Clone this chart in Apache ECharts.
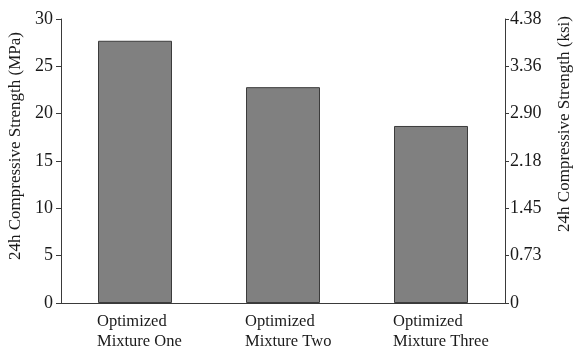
<!DOCTYPE html>
<html>
<head>
<meta charset="utf-8">
<script src="https://cdn.jsdelivr.net/npm/echarts@6/dist/echarts.min.js"></script>
<style>
  html, body { margin: 0; padding: 0; background: #fff; }
  #chart { width: 573px; height: 349px; }
</style>
</head>
<body>
<div id="chart"></div>
<script>
// Mixtures and their 24h compressive strength (MPa)
const categories = ['Optimized\nMixture One', 'Optimized\nMixture Two', 'Optimized\nMixture Three'];
const strengthMPa = [27.7, 22.8, 18.7];

// Left axis ticks (MPa) and the ksi labels printed on the right axis at the same heights
const mpaTicks = [0, 5, 10, 15, 20, 25, 30];
const ksiLabels = ['0', '0.73', '1.45', '2.18', '2.90', '3.36', '4.38'];

const FONT = '"Liberation Serif", "Times New Roman", serif';
const AXIS_COLOR = '#3a3a3a';
const TEXT_COLOR = '#1a1a1a';

const chart = echarts.init(document.getElementById('chart'));

const commonY = {
  type: 'value',
  min: mpaTicks[0],
  max: mpaTicks[mpaTicks.length - 1],
  interval: mpaTicks[1] - mpaTicks[0],
  splitLine: { show: false },
  axisLine: { show: true, lineStyle: { color: AXIS_COLOR, width: 1 } },
  axisTick: { show: true, length: 5, lineStyle: { color: AXIS_COLOR, width: 1 } },
  nameLocation: 'middle',
  nameTextStyle: { fontFamily: FONT, fontSize: 17, color: TEXT_COLOR }
};

chart.setOption({
  animation: false,
  grid: { left: 61, right: 68, top: 19, bottom: 46, containLabel: false, outerBoundsMode: 'none' },
  xAxis: {
    type: 'category',
    data: categories,
    axisLine: { lineStyle: { color: AXIS_COLOR, width: 1 } },
    axisTick: { alignWithLabel: true, length: 5, lineStyle: { color: AXIS_COLOR } },
    axisLabel: {
      interval: 0,
      margin: 9,
      formatter: function (v) {
        return v.split('\n').map(function (s) { return '{a|' + s + '}'; }).join('\n');
      },
      rich: {
        a: { fontFamily: FONT, fontSize: 16.5, color: TEXT_COLOR, lineHeight: 20, width: 76, align: 'left' }
      }
    }
  },
  yAxis: [
    Object.assign({}, commonY, {
      position: 'left',
      name: '24h Compressive Strength (MPa)',
      nameGap: 36,
      nameTextStyle: Object.assign({}, commonY.nameTextStyle, { padding: [0, 0, 0, 30] }),
      axisLabel: { fontFamily: FONT, fontSize: 18, color: TEXT_COLOR, margin: 8 }
    }),
    Object.assign({}, commonY, {
      position: 'right',
      name: '24h Compressive Strength (ksi)',
      nameGap: 51,
      nameTextStyle: Object.assign({}, commonY.nameTextStyle, { padding: [0, 0, 0, 74] }),
      axisTick: { show: true, length: 4, lineStyle: { color: AXIS_COLOR, width: 1 } },
      axisLabel: {
        fontFamily: FONT, fontSize: 18, color: TEXT_COLOR, margin: 5,
        formatter: function (v) {
          const i = mpaTicks.indexOf(v);
          return i >= 0 ? ksiLabels[i] : '';
        }
      }
    })
  ],
  series: [{
    type: 'bar',
    yAxisIndex: 0,
    data: strengthMPa,
    barWidth: '50%',
    itemStyle: { color: '#808080', borderColor: '#3c3c3c', borderWidth: 1 }
  }]
});
</script>
</body>
</html>
